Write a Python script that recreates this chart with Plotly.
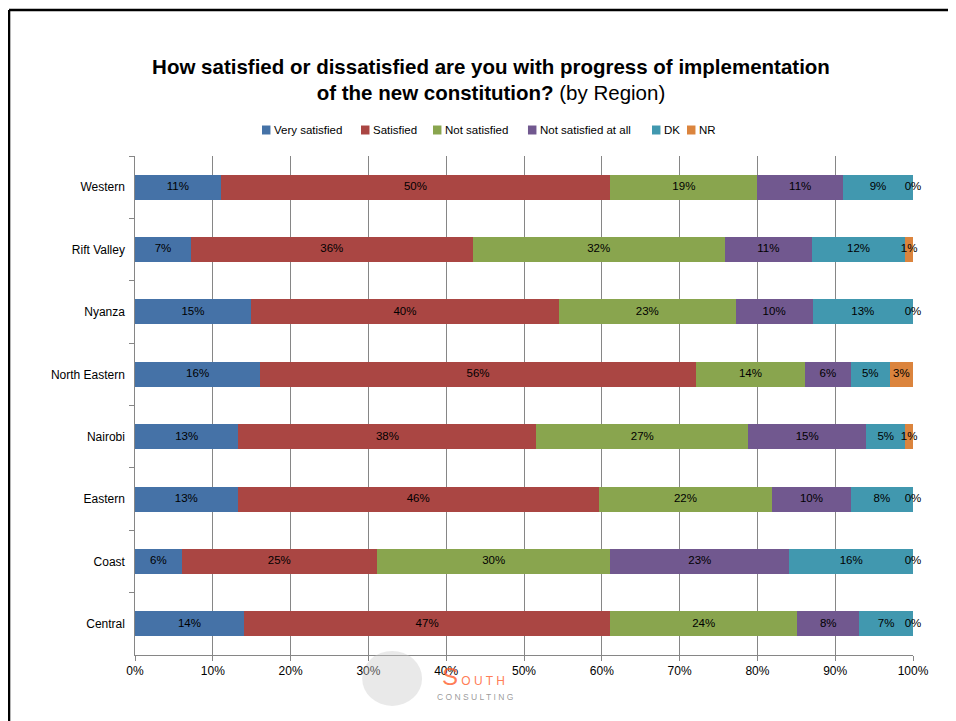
import plotly.graph_objects as go

# Regions from top to bottom
regions = ['Western', 'Rift Valley', 'Nyanza', 'North Eastern',
           'Nairobi', 'Eastern', 'Coast', 'Central']

# Shares (%)
very_satisfied = [11.0, 7.2, 14.9, 16.1, 13.3, 13.2, 6.0, 14.0]
satisfied = [50.1, 36.2, 39.6, 56.0, 38.3, 46.4, 25.1, 47.1]
not_satisfied = [18.9, 32.4, 22.7, 14.0, 27.2, 22.3, 30.0, 24.0]
not_satisfied_at_all = [11.0, 11.2, 9.9, 5.9, 15.2, 10.1, 23.0, 8.0]
dk = [9.0, 12.0, 12.9, 5.0, 5.0, 8.0, 15.9, 6.9]
nr = [0.0, 1.0, 0.0, 3.0, 1.0, 0.0, 0.0, 0.0]

series = [
    ('Very satisfied', very_satisfied, '#4572A7'),
    ('Satisfied', satisfied, '#AA4643'),
    ('Not satisfied', not_satisfied, '#89A54E'),
    ('Not satisfied at all', not_satisfied_at_all, '#71588F'),
    ('DK', dk, '#4198AF'),
    ('NR', nr, '#DB843D'),
]

xtick_vals = list(range(0, 101, 10))

FONT = 'Liberation Sans'

fig = go.Figure()

for name, vals, color in series:
    fig.add_trace(go.Bar(
        y=regions,
        x=vals,
        name=name,
        orientation='h',
        marker=dict(color=color, line=dict(width=0)),
        hoverinfo='name+x',
        showlegend=False,
    ))

# Data labels centred on each segment (Excel style, zero segments sit at the end)
lab_x, lab_y, lab_t = [], [], []
for i, reg in enumerate(regions):
    start = 0.0
    for name, vals, color in series:
        v = vals[i]
        lab_x.append(min(round(start + v / 2, 3), 100))
        lab_y.append(reg)
        lab_t.append(f'{round(v)}%')
        start += v

fig.add_trace(go.Scatter(
    x=lab_x, y=lab_y, text=lab_t, mode='text',
    textfont=dict(family=FONT, size=11.5, color='black'),
    showlegend=False, hoverinfo='skip', cliponaxis=False,
))

# Excel-like legend above the plot: small square + name (paper coords)
legend_x = [0.1632, 0.2905, 0.3830, 0.5051, 0.6645, 0.7095]
sq_w = 0.0109
shapes = []
annotations = []
for (name, vals, color), lx in zip(series, legend_x):
    shapes.append(dict(type='rect', xref='paper', yref='paper',
                       x0=lx, x1=lx + sq_w, y0=1.0431, y1=1.0611,
                       line=dict(width=0), fillcolor=color))
    annotations.append(dict(text=name, xref='paper', yref='paper',
                            x=lx + sq_w + 0.002, y=1.0521,
                            xanchor='left', yanchor='middle', showarrow=False,
                            font=dict(family=FONT, size=11.5, color='black')))

# outer frame of the slide (top and left edges only)
shapes += [
    dict(type='line', xref='paper', yref='paper',
         x0=-0.1619, x1=1.1, y0=1.2926, y1=1.2926,
         line=dict(color='black', width=2.5), layer='above'),
    dict(type='line', xref='paper', yref='paper',
         x0=-0.1619, x1=-0.1619, y0=-0.2, y1=1.2926,
         line=dict(color='black', width=2.5), layer='above'),
    # faint logo globe
    dict(type='circle', xref='paper', yref='paper',
         x0=0.292, x1=0.369, y0=-0.102, y1=0.008,
         line=dict(width=0), fillcolor='rgba(200,200,200,0.4)',
         layer='above'),
]

annotations += [
    dict(text='<span style="font-size:24px">S</span> O U T H', xref='paper', yref='paper',
         x=0.392, y=-0.044, xanchor='left', yanchor='middle', showarrow=False,
         font=dict(family=FONT, size=12, color='rgba(255,90,40,0.8)')),
    dict(text='C O N S U L T I N G', xref='paper', yref='paper',
         x=0.386, y=-0.084, xanchor='left', yanchor='middle', showarrow=False,
         font=dict(family=FONT, size=8.5, color='rgba(120,120,120,0.75)')),
]

fig.update_layout(
    barmode='stack',
    bargap=0.6,
    width=948,
    height=713,
    margin=dict(l=127, r=43, t=148, b=66),
    paper_bgcolor='white',
    plot_bgcolor='white',
    font=dict(family=FONT, size=12, color='black'),
    title=dict(
        text='<b>How satisfied or dissatisfied are you with progress of implementation</b>'
             '<br><b>of the new constitution?</b> (by Region)',
        x=0.5095, xanchor='center',
        yref='container', y=0.908, yanchor='middle',
        font=dict(family=FONT, size=20.5, color='black'),
    ),
    xaxis=dict(
        range=[0, 100],
        tickvals=xtick_vals,
        ticktext=[f'{v}%' for v in xtick_vals],
        showgrid=True,
        gridcolor='#868686',
        gridwidth=1,
        zeroline=False,
        showline=True,
        linecolor='#868686',
        ticks='outside',
        ticklen=5,
        tickcolor='#868686',
        tickfont=dict(family=FONT, size=12),
        fixedrange=True,
    ),
    yaxis=dict(
        autorange='reversed',
        showgrid=False,
        showline=True,
        linecolor='#868686',
        ticks='outside',
        tickson='boundaries',
        ticklen=5,
        tickcolor='#868686',
        tickfont=dict(family=FONT, size=12),
        ticksuffix='  ',
        fixedrange=True,
    ),
    shapes=shapes,
    annotations=annotations,
)

fig.write_html('out.html')
